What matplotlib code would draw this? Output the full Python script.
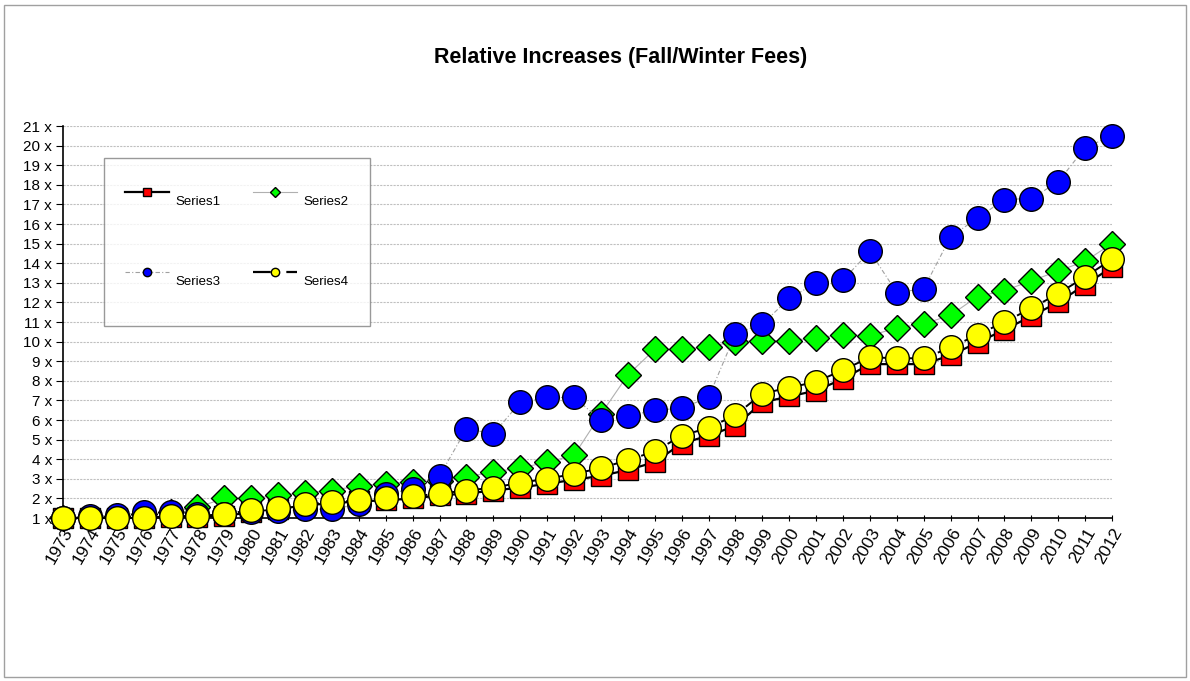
import matplotlib
matplotlib.use('Agg')
import matplotlib.pyplot as plt
from matplotlib.lines import Line2D
from matplotlib.patches import Rectangle

plt.rcParams['font.family'] = ['Liberation Sans', 'DejaVu Sans']

# Данные
years = list(range(1973, 2013))

series1 = [1.0, 1.0, 1.0, 1.0, 1.05, 1.05, 1.1, 1.3, 1.45, 1.65,
           1.75, 1.85, 1.9, 2.0, 2.15, 2.25, 2.4, 2.55, 2.75, 2.95,
           3.15, 3.45, 3.85, 4.8, 5.2, 5.7, 6.9, 7.2, 7.5, 8.1,
           8.85, 8.85, 8.85, 9.3, 9.95, 10.6, 11.3, 12.0, 12.9, 13.8]

series2 = [1.0, 1.05, 1.1, 1.2, 1.3, 1.55, 2.0, 2.0, 2.15, 2.3,
           2.4, 2.65, 2.75, 2.85, 2.9, 3.1, 3.35, 3.55, 3.85, 4.2,
           6.3, 8.3, 9.6, 9.6, 9.75, 10.0, 10.05, 10.05, 10.2, 10.35,
           10.3, 10.7, 10.9, 11.35, 12.3, 12.6, 13.1, 13.6, 14.1, 15.0]

series3 = [1.0, 1.1, 1.15, 1.3, 1.3, 1.2, 1.2, 1.3, 1.35, 1.45,
           1.45, 1.7, 2.2, 2.5, 3.15, 5.55, 5.3, 6.9, 7.15, 7.15,
           6.0, 6.2, 6.5, 6.6, 7.15, 10.4, 10.9, 12.2, 13.0, 13.15,
           14.6, 12.5, 12.7, 15.35, 16.3, 17.25, 17.3, 18.15, 19.9, 20.5]

series4 = [1.0, 1.0, 1.0, 1.0, 1.1, 1.1, 1.2, 1.4, 1.5, 1.7,
           1.8, 1.9, 2.0, 2.1, 2.25, 2.4, 2.55, 2.8, 3.0, 3.25,
           3.55, 3.95, 4.4, 5.2, 5.6, 6.25, 7.35, 7.65, 7.95, 8.55,
           9.2, 9.15, 9.15, 9.7, 10.35, 11.0, 11.7, 12.45, 13.3, 14.2]

y_ticks = list(range(1, 22))

fig = plt.figure(figsize=(11.9, 6.81), dpi=100)
W, H = 1190, 681
ax = fig.add_axes([63 / W, 1 - 518 / H, (1112 - 63) / W, (518 - 126) / H])

# рамка всей диаграммы
fig.patches.append(Rectangle((4 / W, 4 / H), 1182 / W, 672 / H, transform=fig.transFigure,
                             fill=False, edgecolor='#a0a0a0', lw=1))

ax.plot(years, series1, color='black', lw=1.6, marker='s', ms=15, mfc='#ff0000',
        mec='black', mew=1, clip_on=False, zorder=3)
ax.plot(years, series2, color='#b0b0b0', lw=0.8, marker='D', ms=13, mfc='#00ff00',
        mec='black', mew=1, clip_on=False, zorder=4)
ax.plot(years, series3, color='#a0a0a0', lw=0.8, ls=(0, (4, 2, 1, 2)), marker='o', ms=17,
        mfc='#0000ff', mec='black', mew=1, clip_on=False, zorder=5)
ax.plot(years, series4, color='black', lw=1.4, ls=(0, (8, 3, 1, 3)), marker='o', ms=17,
        mfc='#ffff00', mec='black', mew=1, clip_on=False, zorder=6)

ax.set_xlim(1973, 2012)
ax.set_ylim(1, 21)
ax.set_yticks(y_ticks)
ax.set_yticklabels([f'{v} x' for v in y_ticks], fontsize=11)
ax.set_xticks(years)
ax.set_xticklabels([str(y) for y in years], fontsize=12.5, rotation=60,
                   ha='right', rotation_mode='anchor')
ax.tick_params(axis='y', length=5, width=0.8, pad=3)
ax.tick_params(axis='x', length=5, width=0.8, pad=3, direction='inout')

ax.grid(axis='y', color='#c0c0c0', lw=0.8, ls=(0, (2, 1)))
ax.set_axisbelow(True)
for side in ['top', 'right']:
    ax.spines[side].set_visible(False)
ax.spines['left'].set_linewidth(1.2)
ax.spines['bottom'].set_linewidth(1.2)

fig.text(621 / W, 1 - 57 / H, 'Relative Increases (Fall/Winter Fees)',
         ha='center', va='center', fontsize=15.5, fontweight='bold')

# легенда с маленькими маркерами (порядок для заполнения по столбцам)
h1 = Line2D([], [], color='black', lw=1.6, marker='s', ms=6, mfc='#ff0000', mec='black')
h2 = Line2D([], [], color='#b0b0b0', lw=0.8, marker='D', ms=5, mfc='#00ff00', mec='black')
h3 = Line2D([], [], color='#a0a0a0', lw=0.8, ls=(0, (4, 2, 1, 2)), marker='o', ms=6,
            mfc='#0000ff', mec='black')
h4 = Line2D([], [], color='black', lw=1.6, ls=(0, (8, 3, 1, 3)), marker='o', ms=6,
            mfc='#ffff00', mec='black')
leg = fig.legend([h1, h3, h2, h4], ['Series1', 'Series3', 'Series2', 'Series4'], ncol=2,
                 loc='upper left',
                 bbox_to_anchor=(104 / W, 1 - 158 / H), bbox_transform=fig.transFigure,
                 fontsize=9.5, frameon=True, fancybox=False, edgecolor='#808080',
                 borderpad=1.6, handlelength=3.3, handleheight=5, labelspacing=2.55,
                 columnspacing=2.5, handletextpad=0.5, borderaxespad=0)
leg.get_frame().set_linewidth(1)

fig.savefig('out.png', dpi=100)
